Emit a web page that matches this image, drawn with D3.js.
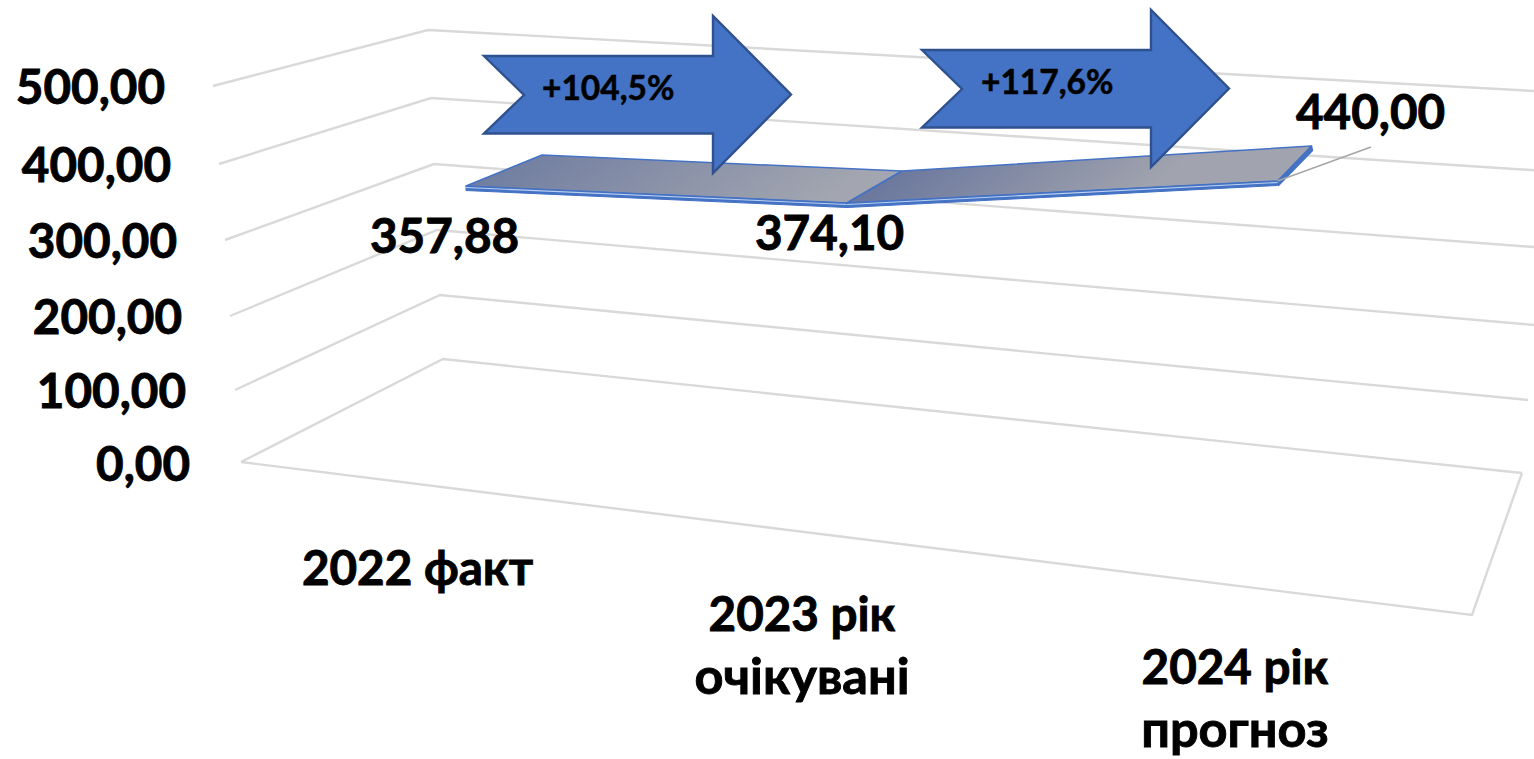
<!DOCTYPE html>
<html><head><meta charset="utf-8">
<script src="https://cdn.jsdelivr.net/npm/d3@7"></script>
<style>html,body{margin:0;padding:0;background:#fff;overflow:hidden}svg{display:block}
text{font-family:Lato,"Noto Sans",sans-serif;font-weight:700;fill:#000;stroke:#000;stroke-width:.9px}</style>
</head><body><svg id="c" width="1534" height="759"></svg>
<script>
const categories = [["2022 факт"], ["2023 рік","очікувані"], ["2024 рік","прогноз"]];
const seriesValues = [357.88, 374.10, 440.00];
const yTicks = [0, 100, 200, 300, 400, 500];
const growthLabels = ["+104,5%", "+117,6%"];

const svg = d3.select("#c");
const fmt = d3.formatLocale({decimal:",",thousands:" ",grouping:[3],currency:["",""]}).format(".2f");
const lvl = r => d3.scaleLinear().domain(yTicks).range(r);

// wall / floor corners as a function of the value level
const flX = lvl([241,235,230,225,219,213]), flY = lvl([462,390,316,240,164,86]);
const blX = lvl([443,440,437,434,431,428]), blY = lvl([359,295,230,164,98,30]);
const brX = lvl([1522,1528,1534,1540,1546,1552]), brY = lvl([473,400,325,247.5,171,92]);
const tickEndX = lvl([190,186,182,177,171,165]), tickBaseY = lvl([480.5,407.5,333.5,257.5,182,104]);

const line = d3.line();
const grid = svg.append("g").attr("fill","none").attr("stroke","#d9d9d9").attr("stroke-width",2.4).attr("stroke-linejoin","miter");
grid.selectAll("path").data(yTicks).join("path")
  .attr("d", v => line([[flX(v),flY(v)],[blX(v),blY(v)],[brX(v),brY(v)]]));
grid.append("path").attr("d", line([[flX(0),flY(0)],[1472,615],[brX(0),brY(0)]]));

svg.append("g").selectAll("text").data(yTicks).join("text")
  .attr("x", tickEndX).attr("y", tickBaseY).attr("text-anchor","end")
  .attr("font-size",47.6).text(v => fmt(v));

// ribbon projection: category index, edge and value
const idx = [0,1,2];
const scale3 = r => d3.scaleLinear().domain(idx).range(r);
const xFront = scale3([466,847,1277.5]), xBack = scale3([542,902,1311.5]);
const baseFront = scale3([461.6,502.3,550.6]), baseBack = scale3([430.6,470.3,515.6]);
const rise = scale3([0.77,0.80,0.84]);
const pF = (i,v=seriesValues[i]) => [xFront(i), baseFront(i)-rise(i)*v];
const pB = (i,v=seriesValues[i]) => [xBack(i), baseBack(i)-rise(i)*v];

const defs = svg.append("defs");
[["g0","#6b799f","#a3a6b0"],["g1","#5c6b99","#a1a4ae"]].forEach(([id,a,b])=>{
  const g = defs.append("linearGradient").attr("id",id).attr("x1","0").attr("y1","0").attr("x2","1").attr("y2","0.15");
  g.append("stop").attr("offset","0").attr("stop-color",a);
  g.append("stop").attr("offset",id==="g0"?"0.95":"0.75").attr("stop-color",b);
});
const rib = svg.append("g").attr("stroke-linejoin","round");
// end cap of last point
const last = 2, th = 4.5;
rib.append("path").attr("fill","#4472c4").attr("stroke","#4472c4").attr("stroke-width",1.4)
  .attr("d", line([pF(last),pB(last),[pB(last)[0]+1,pB(last)[1]+th],[pF(last)[0]+1,pF(last)[1]+th]])+"Z");
[0,1].forEach(i=>{
  rib.append("path").attr("fill",`url(#g${i})`).attr("stroke","#4472c4").attr("stroke-width",1.5)
    .attr("d", line([pF(i),pF(i+1),pB(i+1),pB(i)])+"Z");
});
// front strip
[0,1].forEach(i=>{
  const a=pF(i), b=pF(i+1);
  rib.append("path").attr("fill","#4472c4").attr("stroke","#4472c4").attr("stroke-width",1)
    .attr("d", line([a,b,[b[0],b[1]+th],[a[0],a[1]+th]])+"Z");
  rib.append("path").attr("fill","none").attr("stroke","#bcd0ee").attr("stroke-width",1.1)
    .attr("d", line([[a[0],a[1]+1.5],[b[0],b[1]+1.5]]));
});
// leader line
const lastPt = pF(last);
svg.append("path").attr("fill","none").attr("stroke","#a6a6a6").attr("stroke-width",1.6)
  .attr("d", line([lastPt,[1371,147]]));

// data labels
const dataLabelPos = [[370,252.5],[755,249.5],[1296,128.5]];
svg.append("g").selectAll("text").data(seriesValues).join("text")
  .attr("x",(d,i)=>dataLabelPos[i][0]).attr("y",(d,i)=>dataLabelPos[i][1])
  .attr("font-size",47.6).text(d=>fmt(d));

// category labels
const catCx = [417.5,802,1235], catY = [585,631,684], catDy = 62.5;
const lineSize = [47.6, 50.5];
categories.forEach((c,i)=>{
  svg.append("g").selectAll("text").data(c).join("text")
    .attr("x",catCx[i]).attr("y",(d,j)=>catY[i]+j*catDy).attr("text-anchor","middle")
    .attr("font-size",(d,j)=>lineSize[j]).text(d=>d);
});

// growth arrows
const arrow = (x,y)=>line([[x,y+40],[x+229,y+40],[x+229,y],[x+307,y+78.5],[x+229,y+157],[x+229,y+117.5],[x,y+117.5],[x+40,y+79]])+"Z";
const arrowPos = [[484,16],[922,10]], arrowText = [[542,100],[981,94]];
const arrows = svg.append("g");
growthLabels.forEach((t,i)=>{
  arrows.append("path").attr("d",arrow(...arrowPos[i])).attr("fill","#4472c4").attr("stroke","#2f528f").attr("stroke-width",2.4);
  arrows.append("text").attr("x",arrowText[i][0]).attr("y",arrowText[i][1]).attr("font-size",33.5).style("stroke-width",".5px").text(t);
});
</script></body></html>
